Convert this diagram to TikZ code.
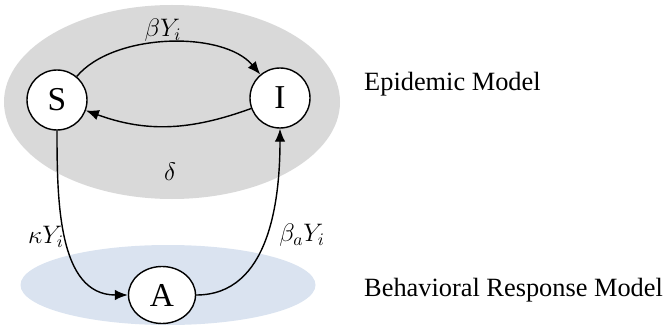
\documentclass[tikz,border=0pt]{standalone}
\usepackage{fontspec}
\setmainfont{Liberation Serif}
\usepackage{amsmath}
\usetikzlibrary{shapes,arrows.meta}
\usetikzlibrary{positioning}

\definecolor{epigray}{RGB}{217,217,217}
\definecolor{behblue}{RGB}{218,227,240}

\tikzset{
  state/.style={draw, circle, fill=white, line width=0.8pt, minimum size=1.2cm, inner sep=0pt, font=\fontsize{19}{22}\selectfont},
  flow/.style={-{Latex[length=2.6mm,width=2.1mm]}, line width=0.8pt},
  rate/.style={font=\fontsize{14}{16}\selectfont},
  layer/.style={anchor=west, font=\fontsize{15}{18}\selectfont}
}

\begin{document}
\begin{tikzpicture}

\useasboundingbox (0,0) rectangle (13.34,-6.70);

% background layers
\fill[epigray] (3.44,-2.04) ellipse (3.36 and 1.94);
\fill[behblue] (3.36,-5.70) ellipse (2.95 and 0.80);

% states
\node[state](S) at (1.14,-2.00) {S};
\node[state](I) at (5.60,-1.96) {I};
\node[state, ellipse, minimum width=1.34cm, minimum height=1.14cm](A) at (3.24,-5.90) {A};

% transitions
\path[flow](S) edge [out=50, in=130, looseness=0.8] (I);
\path[flow](I) edge [out=-160, in=-20] (S);
\path[flow](S) edge [out=-90, in=180] (A);
\path[flow](A) edge [out=0, in=-90] (I);

% rates
\node[rate](infect) at (3.26,-0.60) {$\beta Y_i$};
\node[rate](recover) at (3.40,-3.44) {$\delta$};
\node[rate](aware) at (0.92,-4.74) {$\kappa Y_i$};
\node[rate](ainfect) at (6.04,-4.70) {$\beta_a Y_i$};

% layer names
\node[layer](epi) at (7.16,-1.68) {Epidemic Model};
\node[layer](beh) at (7.16,-5.80) {Behavioral Response Model};

\end{tikzpicture}
\end{document}
